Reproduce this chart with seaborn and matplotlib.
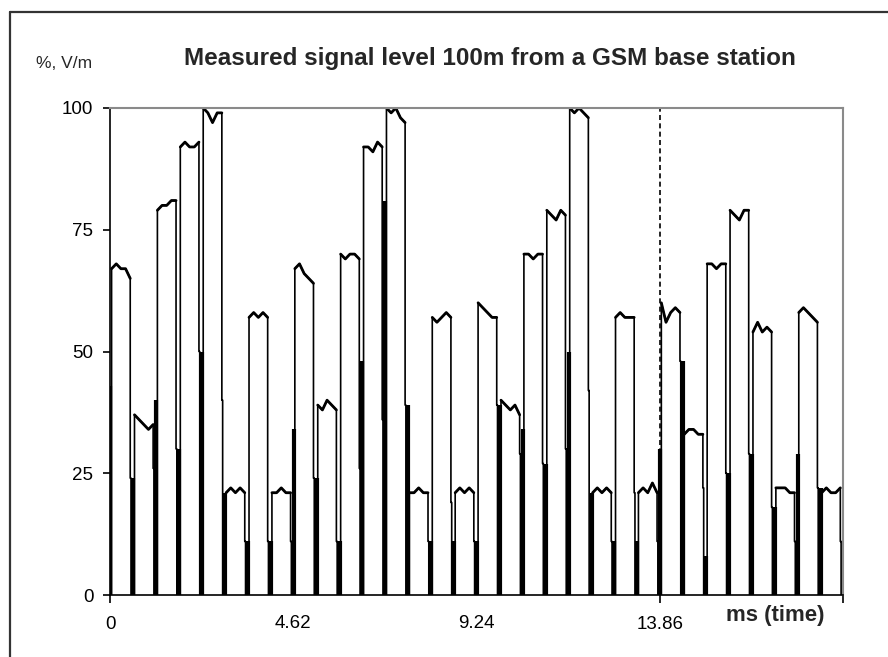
import numpy as np
import pandas as pd
import matplotlib
matplotlib.use("Agg")
import matplotlib.pyplot as plt
from matplotlib.lines import Line2D
import seaborn as sns

# --- data --------------------------------------------------------------
SLOT_MS = 0.5775          # one GSM timeslot
X_END = 18.48             # 4 TDMA frames
marker_ms = 13.86         # dashed frame marker

# plateau level of each of the 32 timeslots (%, V/m), 5 readings per slot
plateaus = [
    [67, 68, 67, 67, 65], [37, 36, 35, 34, 35], [79, 80, 80, 81, 81], [92, 93, 92, 92, 93],
    [100, 99, 97, 99, 99], [21, 22, 21, 22, 21], [57, 58, 57, 58, 57], [21, 21, 22, 21, 21],
    [67, 68, 66, 65, 64], [39, 38, 40, 39, 38], [70, 69, 70, 70, 69], [92, 92, 91, 93, 92],
    [100, 99, 100, 98, 97], [21, 21, 22, 21, 21], [57, 56, 57, 58, 57], [21, 22, 21, 22, 21],
    [60, 59, 58, 57, 57], [40, 39, 38, 39, 37], [70, 70, 69, 70, 70], [79, 78, 77, 79, 78],
    [100, 99, 100, 99, 98], [21, 22, 21, 22, 21], [57, 58, 57, 57, 57], [21, 22, 21, 23, 21],
    [60, 56, 58, 59, 58], [33, 34, 34, 33, 33], [68, 68, 67, 68, 68], [79, 78, 77, 79, 79],
    [54, 56, 54, 55, 54], [22, 22, 22, 21, 21], [58, 59, 58, 57, 56], [21, 22, 21, 21, 22],
]
# level the falling edge stops at after each slot
fall_level = [24, 26, 30, 50, 40, 11, 11, 11, 24, 11, 26, 36, 39, 11, 19, 11,
              39, 29, 27, 30, 42, 11, 21, 11, 48, 22, 25, 29, 18, 11, 22, 11]
# height of the noisy (solid black) burst just before each slot rises
burst_top = [43, 24, 40, 30, 50, 21, 11, 11, 34, 24, 11, 48, 81, 39, 11, 11,
             11, 39, 34, 27, 50, 21, 11, 11, 30, 48, 8, 25, 29, 18, 29, 22]

x_major = [0, 13.86, 18.48]
x_major_lbl = ["0", "13.86", ""]
x_minor = [4.62, 9.24]
x_minor_lbl = ["4.62", "9.24"]
y_ticks = [0, 25, 50, 75, 100]

# --- build the trace ---------------------------------------------------
wave, plat, bursts = [], [], []
for s, p in enumerate(plateaus):
    t0 = s * SLOT_MS + 0.04
    ts = t0 + np.linspace(0, 0.47, len(p))
    wave.append((t0, 0))
    for t, v in zip(ts, p):
        wave.append((t, v))
        plat.append((s, t, v))
    t1 = ts[-1]
    wave += [(t1, fall_level[s]), (t1 + 0.02, fall_level[s]), (t1 + 0.02, 0)]
    bursts.append((t0 - 0.028, burst_top[s]))

wave = pd.DataFrame(wave, columns=["t", "v"])
plat = pd.DataFrame(plat, columns=["slot", "t", "v"])
bursts = pd.DataFrame(bursts, columns=["t", "top"])

sns.set_theme(style="white")
plt.rcParams["font.family"] = ["Liberation Sans", "DejaVu Sans"]

fig = plt.figure(figsize=(8.88, 6.57), dpi=100)
ax = fig.add_axes([110 / 888, 1 - 595 / 657, 733 / 888, 487 / 657])

sns.lineplot(data=wave, x="t", y="v", sort=False, estimator=None,
             color="black", lw=1.2, ax=ax)
sns.lineplot(data=plat, x="t", y="v", units="slot", estimator=None,
             color="black", lw=2.0, ax=ax)
ax.vlines(bursts["t"], 0, bursts["top"], color="black", lw=3)
ax.axvline(marker_ms, color="black", lw=1.2, ls=(0, (3, 2)))

ax.set_xlim(0, X_END)
ax.set_ylim(0, 100)
ax.set_xlabel("")
ax.set_ylabel("")

ax.set_xticks(x_major)
ax.set_xticklabels(x_major_lbl)
ax.set_xticks(x_minor, minor=True)
ax.set_xticklabels(x_minor_lbl, minor=True)
ax.set_yticks(y_ticks)
ax.set_yticklabels([str(v) for v in y_ticks])
ax.tick_params(axis="x", which="major", direction="out", length=6, width=1.2,
               pad=9, labelsize=13.5, colors="black", bottom=True)
ax.tick_params(axis="x", which="minor", length=0, pad=14.5, labelsize=13.5,
               labelcolor="black", bottom=True)
ax.tick_params(axis="y", direction="out", length=5, width=1.2, pad=7,
               labelsize=13.5, colors="black", left=True)

for side in ("left", "bottom"):
    ax.spines[side].set_color("black")
    ax.spines[side].set_linewidth(1.2)
for side in ("top", "right"):
    ax.spines[side].set_color("#8a8a8a")
    ax.spines[side].set_linewidth(1.5)

fig.text(490 / 888, 1 - 59 / 657, "Measured signal level 100m from a GSM base station",
         ha="center", va="center", fontsize=17.5, fontweight="bold")
fig.text(36 / 888, 1 - 64 / 657, "%, V/m", ha="left", va="center", fontsize=12.5)
fig.text(775 / 888, 1 - 616 / 657, "ms (time)", ha="center", va="center",
         fontsize=16, fontweight="bold")

# outer frame (left and top edges)
fig.add_artist(Line2D([10 / 888, 10 / 888], [0, 1 - 12 / 657], color="#333333",
                      lw=1.6, transform=fig.transFigure))
fig.add_artist(Line2D([10 / 888, 1], [1 - 12 / 657, 1 - 12 / 657], color="#333333",
                      lw=1.6, transform=fig.transFigure))

fig.savefig("out.png", dpi=100)
